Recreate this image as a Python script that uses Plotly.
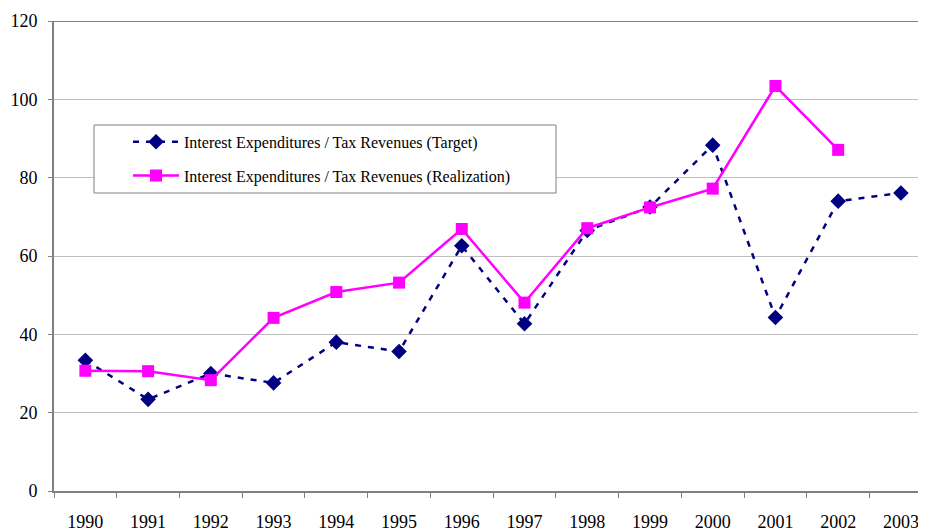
import plotly.graph_objects as go

years = ["1990", "1991", "1992", "1993", "1994", "1995", "1996",
         "1997", "1998", "1999", "2000", "2001", "2002", "2003"]
target = [33.4, 23.4, 30.0, 27.6, 38.0, 35.6, 62.6,
          42.7, 66.5, 72.5, 88.3, 44.3, 74.0, 76.1]
realization = [30.7, 30.6, 28.3, 44.2, 50.8, 53.2, 66.9,
               48.1, 67.1, 72.4, 77.2, 103.4, 87.1, None]
y_ticks = [0, 20, 40, 60, 80, 100, 120]

name_t = "Interest Expenditures / Tax Revenues (Target)"
name_r = "Interest Expenditures / Tax Revenues (Realization)"

SERIF = "Liberation Serif"

fig = go.Figure()
fig.add_trace(go.Scatter(
    x=years, y=target, name=name_t, mode="lines+markers", legendgroup="t",
    line=dict(color="#000080", width=2.5, dash="6px,7px"),
    marker=dict(symbol="diamond", size=12, color="#000080"),
))
fig.add_trace(go.Scatter(
    x=years, y=realization, name=name_r, mode="lines+markers", legendgroup="r",
    line=dict(color="#FF00FF", width=2.5),
    marker=dict(symbol="square", size=12, color="#FF00FF"),
    connectgaps=False,
))

# The page body adds an 8px offset; size and margins compensate for it.
fig.update_layout(
    width=918, height=520,
    margin=dict(l=46, r=0, t=13, b=37, autoexpand=False),
    paper_bgcolor="white", plot_bgcolor="white",
    font=dict(family=SERIF, color="black", size=18),
    showlegend=True,
    legend=dict(
        x=0.0849, y=0.779, xanchor="left", yanchor="top",
        bgcolor="rgba(0,0,0,0)", borderwidth=0,
        font=dict(size=16, family=SERIF, color="black"),
        tracegroupgap=10, traceorder="grouped", itemwidth=46,
    ),
)
fig.update_xaxes(
    type="category", range=[-0.5, 13.4], automargin=False,
    showgrid=False, showline=True, linecolor="#808080", linewidth=2,
    ticks="outside", ticklen=5, tickcolor="#808080", tickson="boundaries",
    mirror=False, ticklabelstandoff=13,
    tickfont=dict(family=SERIF, size=18, color="black"),
)
fig.update_yaxes(
    range=[0, 120], tickvals=y_ticks, automargin=False,
    showgrid=True, gridcolor="#C0C0C0", gridwidth=1,
    showline=True, linecolor="#808080", linewidth=2,
    ticks="outside", ticklen=4, tickcolor="#808080",
    zeroline=False, ticklabelstandoff=7,
    tickfont=dict(family=SERIF, size=18, color="black"),
)
fig.add_shape(type="line", xref="paper", yref="y", x0=0, x1=1, y0=120, y1=120,
              line=dict(color="#808080", width=2))
# legend frame
fig.add_shape(type="rect", xref="paper", yref="paper",
              x0=0.0459, x1=0.5757, y0=0.634, y1=0.7787,
              line=dict(color="#808080", width=1), fillcolor="white", layer="above")

fig.write_html("out.html")
